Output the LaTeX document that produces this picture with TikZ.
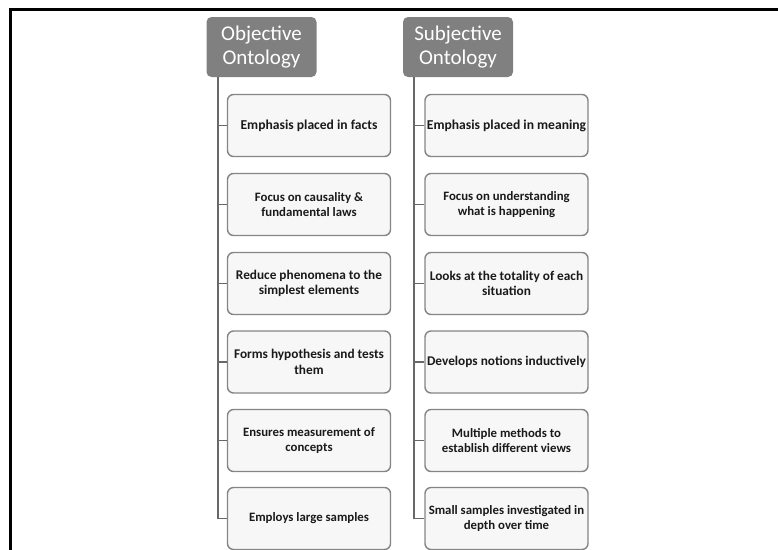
\documentclass[tikz,border=0pt]{standalone}
\usepackage{fontspec}
\setmainfont{Carlito}
\begin{document}
\begin{tikzpicture}[x=1pt,y=-1pt,
  header/.style={draw=none, fill=headgray, rounded corners=5pt, minimum width=110pt,
    minimum height=60pt, align=center, text=white, inner sep=2pt,
    font=\fontsize{21}{24}\selectfont},
  item/.style={draw=boxline, line width=1.4pt, fill=boxfill, rounded corners=6pt,
    minimum width=163pt, minimum height=62pt, align=center,
    text=textdark, inner sep=1pt, font=\bfseries\fontsize{12.8}{15.5}\selectfont},
  big/.style={font=\bfseries\fontsize{13.6}{16}\selectfont},
  mid/.style={font=\bfseries\fontsize{13.3}{15.5}\selectfont},
  trunk/.style={draw=trunkgray, line width=1.6pt}]
\definecolor{headgray}{HTML}{808080}
\definecolor{boxline}{HTML}{858585}
\definecolor{boxfill}{HTML}{F7F7F7}
\definecolor{trunkgray}{HTML}{686868}
\definecolor{textdark}{HTML}{1A1A1A}
\useasboundingbox (0,0) rectangle (778,549);
\clip (0,0) rectangle (778,549);
% outer frame: top and left edges
\draw[line width=3pt, line cap=rect] (10.5,549) -- (10.5,9.5) -- (778,9.5);

% column headers
\node[header] (obj) at (261.5,47) {Objective\\Ontology};
\node[header] (subj) at (458,47) {Subjective\\Ontology};

% left column items
\node[item, big] (o1) at (309,125.5) {Emphasis placed in facts};
\node[item] (o2) at (309,204.5) {Focus on causality \&\\fundamental laws};
\node[item, mid] (o3) at (309,283.5) {Reduce phenomena to the\\simplest elements};
\node[item, mid] (o4) at (309,362) {Forms hypothesis and tests\\them};
\node[item] (o5) at (309,440.5) {Ensures measurement of\\concepts};
\node[item] (o6) at (309,518.5) {Employs large samples};

% right column items
\node[item, big] (s1) at (506.5,125.5) {Emphasis placed in meaning};
\node[item] (s2) at (506.5,204.5) {Focus on understanding\\what is happening};
\node[item, mid] (s3) at (506.5,283.5) {Looks at the totality of each\\situation};
\node[item, mid] (s4) at (506.5,362) {Develops notions inductively};
\node[item] (s5) at (506.5,440.5) {Multiple methods to\\establish different views};
\node[item] (s6) at (506.5,518.5) {Small samples investigated in\\depth over time};

% tree connectors
\coordinate (ot) at (218,77);
\coordinate (st) at (414,77);
\draw[trunk] (ot) |- (o6.west);
\foreach \i in {1,...,5} \draw[trunk] (ot |- o\i.west) -- (o\i.west);
\draw[trunk] (st) |- (s6.west);
\foreach \i in {1,...,5} \draw[trunk] (st |- s\i.west) -- (s\i.west);
\end{tikzpicture}
\end{document}
